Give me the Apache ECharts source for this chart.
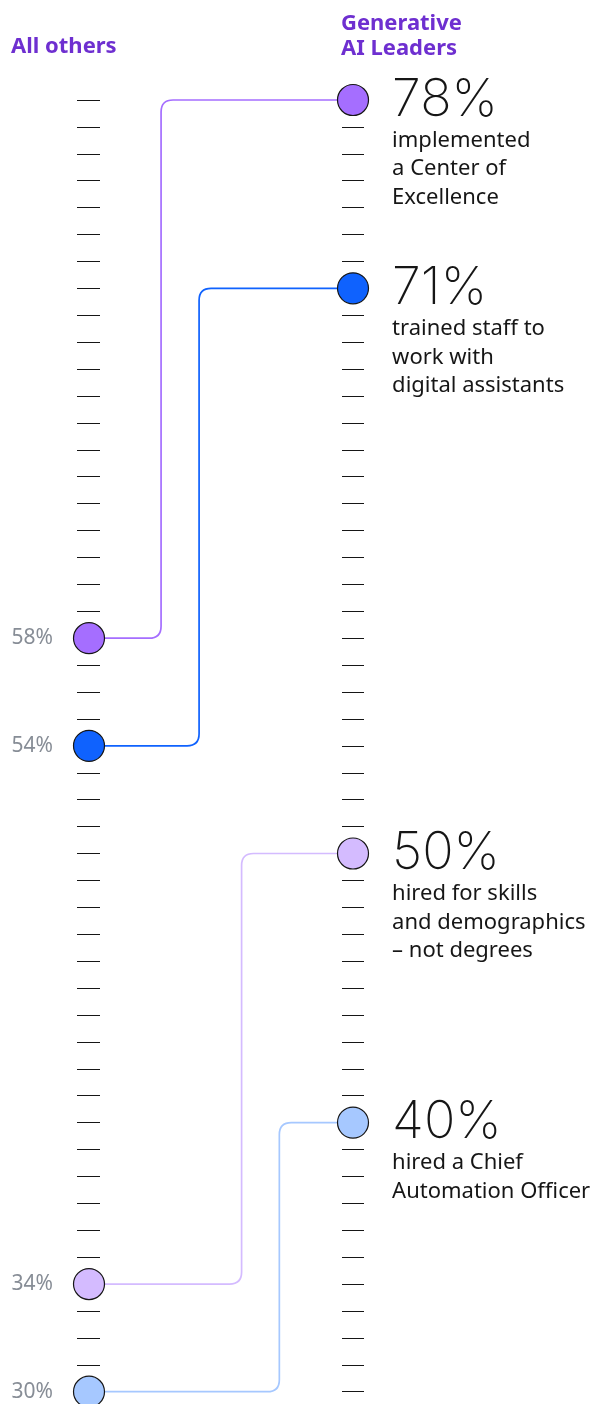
<!DOCTYPE html>
<html>
<head>
<meta charset="utf-8">
<script src="https://cdn.jsdelivr.net/npm/echarts@6/dist/echarts.min.js"></script>
<style>
  html, body { margin: 0; padding: 0; background: #ffffff; }
  #chart { width: 598px; height: 1404px; }
</style>
</head>
<body>
<div id="chart"></div>
<script>
// ---- data ----
const groups = ['All others', 'Generative\nAI Leaders'];
const allOthers = [58, 54, 34, 30];
const genAILeaders = [78, 71, 50, 40];
const descriptions = [
  ['implemented', 'a Center of', 'Excellence'],
  ['trained staff to', 'work with', 'digital assistants'],
  ['hired for skills', 'and demographics', '– not degrees'],
  ['hired a Chief', 'Automation Officer']
];
const colors = ['#a56eff', '#0f62fe', '#d4bbff', '#a6c8ff'];
// layout: where each connector turns (fraction of the distance between columns)
const elbowFrac = [0.273, 0.417, 0.578, 0.721];
const axisMin = 30, axisMax = 78, tickStep = 1;

const FONT = "'Noto Sans', sans-serif";
const THIN = "'Inter', 'Lato', sans-serif";

const chart = echarts.init(document.getElementById('chart'), null, { renderer: 'canvas' });

const connectorData = allOthers.map((v, i) => [v, genAILeaders[i], elbowFrac[i]]);

const option = {
  backgroundColor: '#ffffff',
  animation: false,
  title: [
    { text: groups[0], left: 6, top: 31, padding: 5,
      textStyle: { fontFamily: FONT, fontSize: 22, fontWeight: 'bold', color: '#6e2fd0' } },
    { text: groups[1], left: 336, top: 6, padding: 5,
      textStyle: { fontFamily: FONT, fontSize: 22, fontWeight: 'bold', color: '#6e2fd0', lineHeight: 25 } }
  ],
  grid: { left: 89, right: 245, top: 100, bottom: 12.3 },
  xAxis: { type: 'value', min: 0, max: 1, show: false },
  yAxis: [
    { type: 'value', min: axisMin, max: axisMax, interval: tickStep, position: 'left', offset: -11,
      axisLine: { show: false }, axisLabel: { show: false }, splitLine: { show: false },
      axisTick: { show: true, length: 23, lineStyle: { color: '#161616', width: 1 } } },
    { type: 'value', min: axisMin, max: axisMax, interval: tickStep, position: 'right', offset: -11,
      axisLine: { show: false }, axisLabel: { show: false }, splitLine: { show: false },
      axisTick: { show: true, length: 22, lineStyle: { color: '#161616', width: 1 } } }
  ],
  series: [
    {
      type: 'custom',
      z: 3,
      data: connectorData,
      renderItem: function (params, api) {
        const p0 = api.coord([0, api.value(0)]);
        const p1 = api.coord([1, api.value(1)]);
        const xe = api.coord([api.value(2), axisMin])[0];
        const r = 12;
        const d = 'M' + p0[0] + ' ' + p0[1] +
          ' L' + (xe - r) + ' ' + p0[1] +
          ' Q' + xe + ' ' + p0[1] + ' ' + xe + ' ' + (p0[1] - r) +
          ' L' + xe + ' ' + (p1[1] + r) +
          ' Q' + xe + ' ' + p1[1] + ' ' + (xe + r) + ' ' + p1[1] +
          ' L' + p1[0] + ' ' + p1[1];
        return {
          type: 'path',
          shape: { pathData: d },
          style: { stroke: colors[params.dataIndex], fill: null, lineWidth: 1.7 }
        };
      }
    },
    {
      type: 'scatter',
      z: 5,
      symbol: 'circle',
      symbolSize: 31,
      data: allOthers.map((v, i) => ({ value: [0, v], itemStyle: { color: colors[i] } })),
      itemStyle: { borderColor: '#161616', borderWidth: 1.2, opacity: 1 },
      label: {
        show: true, position: 'left', distance: 20,
        formatter: p => p.value[1] + '%',
        fontFamily: FONT, fontSize: 21, fontWeight: 'normal', color: '#878d96'
      }
    },
    {
      type: 'scatter',
      z: 5,
      symbol: 'circle',
      symbolSize: 31,
      data: genAILeaders.map((v, i) => ({ value: [1, v], itemStyle: { color: colors[i] } })),
      itemStyle: { borderColor: '#161616', borderWidth: 1.2, opacity: 1 },
      label: {
        show: true, position: 'right', distance: 23,
        align: 'left', verticalAlign: 'top', offset: [0, -26],
        formatter: p => '{big|' + p.value[1] + '%}\n' +
          descriptions[p.dataIndex].map(l => '{body|' + l + '}').join('\n'),
        rich: {
          big: { fontFamily: THIN, fontSize: 52, fontWeight: 200, color: '#161616', lineHeight: 52 },
          body: { fontFamily: FONT, fontSize: 22, fontWeight: 'normal', color: '#161616', lineHeight: 28.6 }
        }
      }
    }
  ]
};
chart.setOption(option);
</script>
</body>
</html>
